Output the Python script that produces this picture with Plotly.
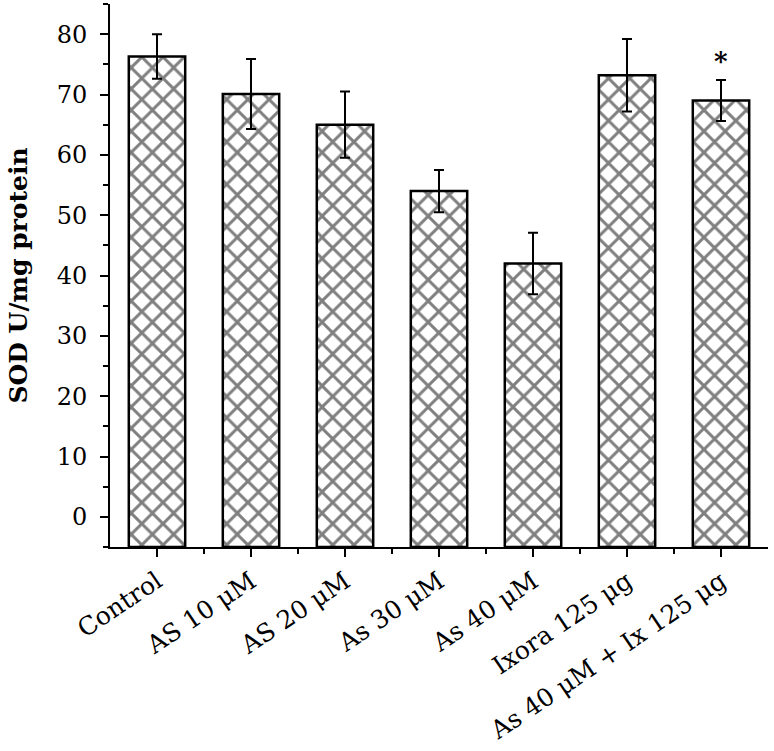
import plotly.graph_objects as go

categories = ["Control", "AS 10 μM", "AS 20 μM", "As 30 μM", "As 40 μM",
              "Ixora 125 μg", "As 40 μM + Ix 125 μg"]
sod_values = [76.3, 70.1, 65.0, 54.0, 42.0, 73.2, 69.0]
sod_errors = [3.7, 5.8, 5.5, 3.5, 5.1, 6.0, 3.4]
star_label = "*"
star_index = 6
star_height = 75.5

SERIF = "DejaVu Serif"
AXIS_BOTTOM = -5
x_pos = list(range(len(categories)))

fig = go.Figure()
# bars are drawn up from the bottom of the axis, as in the original figure
fig.add_trace(
    go.Bar(
        x=x_pos,
        y=[v - AXIS_BOTTOM for v in sod_values],
        base=AXIS_BOTTOM,
        width=0.6,
        marker=dict(
            color="white",
            line=dict(color="black", width=2.5),
            pattern=dict(shape="x", fgcolor="black", bgcolor="white",
                         size=15, solidity=0.35),
        ),
        error_y=dict(type="data", array=sod_errors, color="black",
                     thickness=2, width=5),
        showlegend=False,
    )
)

fig.add_annotation(
    x=star_index, y=star_height, text=f"<b>{star_label}</b>",
    showarrow=False, font=dict(family=SERIF, size=26, color="black"),
)

fig.update_layout(
    width=774,
    height=751,
    margin=dict(l=110, r=6, t=4, b=204),
    plot_bgcolor="white",
    paper_bgcolor="white",
    font=dict(family=SERIF, color="black"),
)

fig.update_xaxes(
    range=[-0.5, 6.5],
    tickmode="array",
    tickvals=x_pos,
    ticktext=categories,
    tickangle=-34,
    tickfont=dict(family=SERIF, size=25),
    showline=True, linecolor="black", linewidth=2,
    ticks="outside", ticklen=8, tickwidth=2, tickcolor="black",
    minor=dict(tickvals=[i + 0.5 for i in x_pos[:-1]], ticks="outside",
               ticklen=5, tickwidth=2, tickcolor="black"),
    showgrid=False, zeroline=False,
)

fig.update_yaxes(
    range=[AXIS_BOTTOM, 85],
    tickvals=[0, 10, 20, 30, 40, 50, 60, 70, 80],
    tickfont=dict(family=SERIF, size=24),
    title=dict(text="<b>SOD U/mg protein</b>",
               font=dict(family=SERIF, size=25), standoff=22),
    showline=True, linecolor="black", linewidth=2,
    ticks="outside", ticklen=8, tickwidth=2, tickcolor="black",
    ticklabelstandoff=8,
    minor=dict(dtick=5, ticks="outside", ticklen=5, tickwidth=2,
               tickcolor="black"),
    showgrid=False, zeroline=False,
)

fig.write_html(
    "out.html",
    config={"displayModeBar": False},
    post_script="document.body.style.margin = '0';",
)
